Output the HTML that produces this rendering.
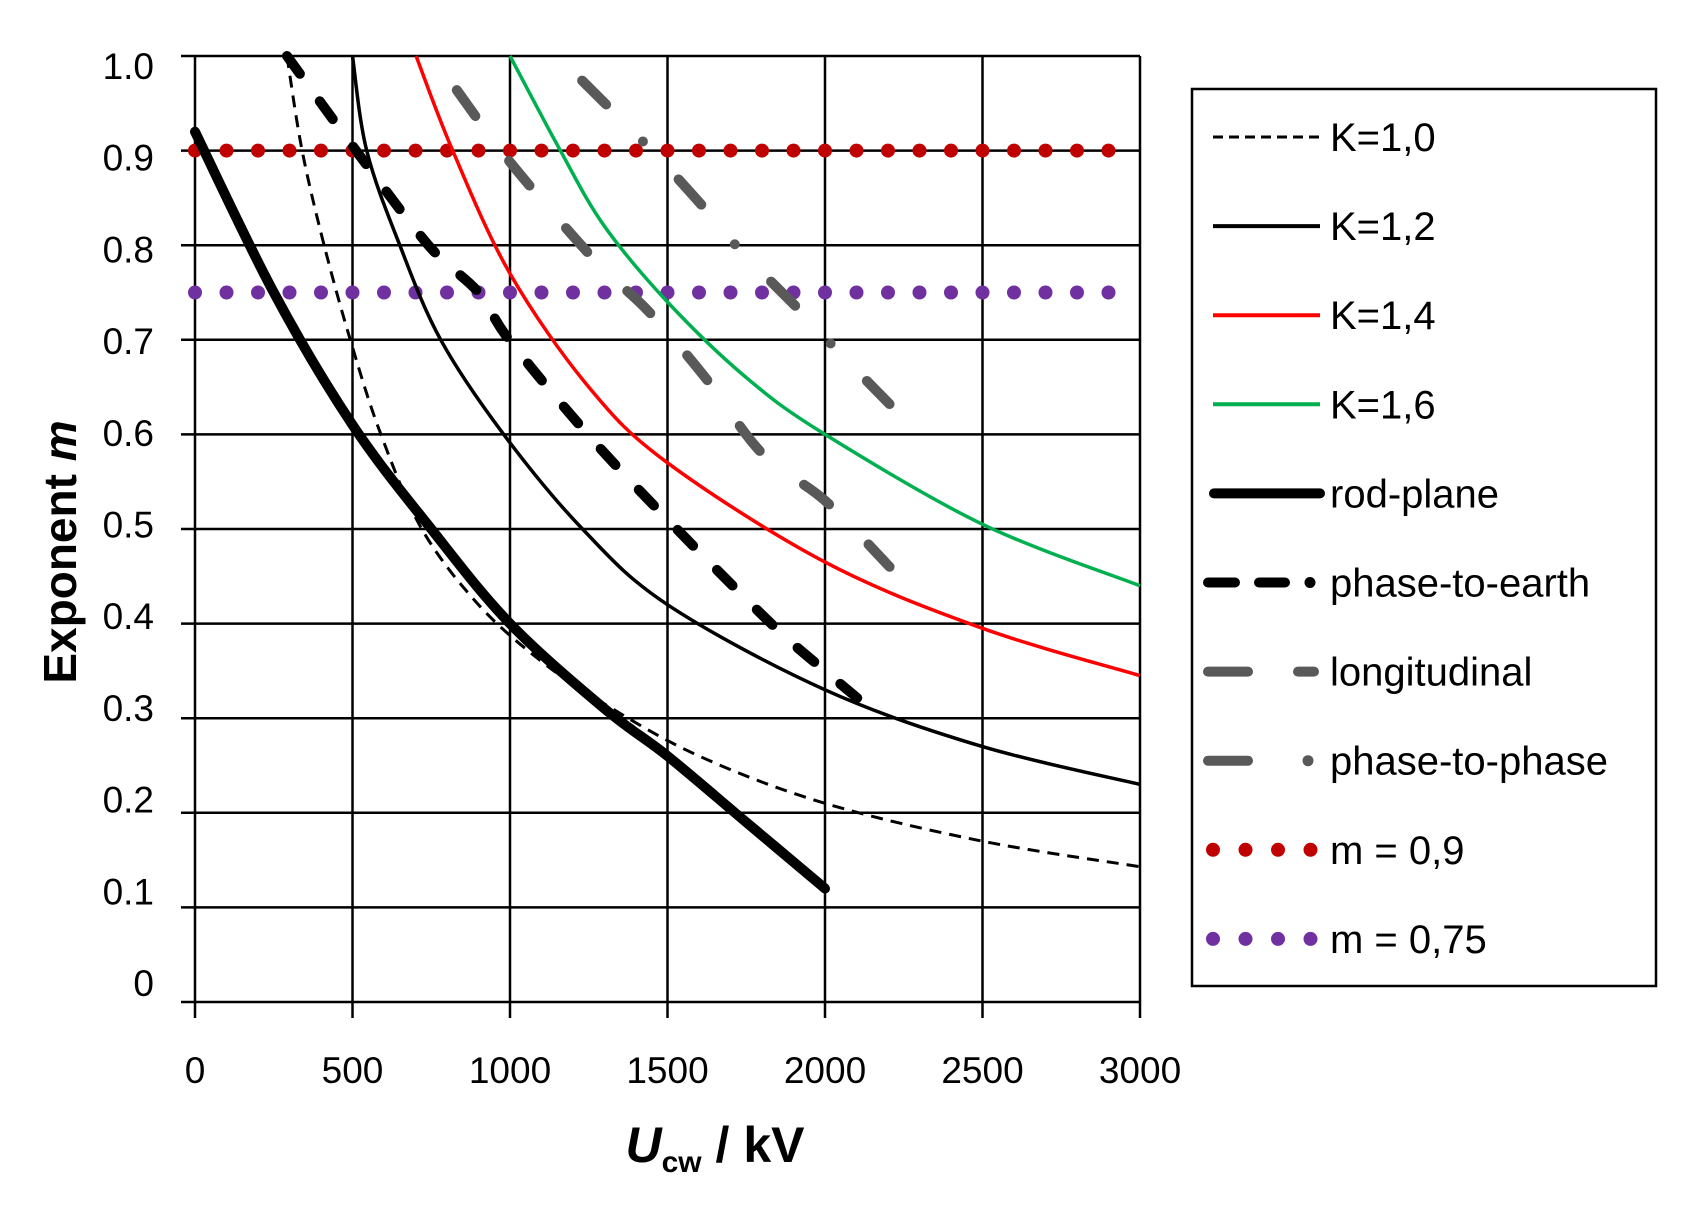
<!DOCTYPE html>
<html><head><meta charset="utf-8"><style>
html,body{margin:0;padding:0;background:#fff;}
svg{display:block;}
text{font-family:"Liberation Sans",sans-serif;fill:#000;}
</style></head><body>
<svg id="s" width="1690" height="1207" viewBox="0 0 1690 1207" xmlns="http://www.w3.org/2000/svg">
<g id="grid" stroke="#000" stroke-width="2.5"></g>
<g id="labels" font-size="37"></g>
<g id="series" fill="none"></g>
<text x="60" y="552" font-size="46" font-weight="bold" text-anchor="middle" transform="rotate(-90 60 552)" dy="16">Exponent <tspan font-style="italic">m</tspan></text>
<text x="715" y="1162" font-size="50" font-weight="bold" text-anchor="middle"><tspan font-style="italic">U</tspan><tspan font-size="30" dy="10">cw</tspan><tspan dy="-10"> / kV</tspan></text>
<rect x="1192" y="89" width="464" height="897" fill="none" stroke="#000" stroke-width="2.5"/>
<g id="legend" font-size="40"></g>
</svg>
<script>
var NS="http://www.w3.org/2000/svg";
function X(u){return 195+u*0.315;}
function Y(m){return 1002-m*946;}
function el(p,t,a,txt){var e=document.createElementNS(NS,t);for(var k in a)e.setAttribute(k,a[k]);if(txt!==undefined)e.textContent=txt;document.getElementById(p).appendChild(e);return e;}
for(var i=0;i<=10;i++){var y=Y(i/10);el("grid","line",{x1:181,y1:y,x2:X(3000),y2:y});}
for(var u=0;u<=3000;u+=500){el("grid","line",{x1:X(u),y1:Y(1),x2:X(u),y2:1018});}
var yl=["0","0.1","0.2","0.3","0.4","0.5","0.6","0.7","0.8","0.9","1.0"];
for(var i=0;i<=10;i++){el("labels","text",{x:154,y:983-i*91.7+13,"text-anchor":"end"},yl[i]);}
for(var u=0;u<=3000;u+=500){el("labels","text",{x:X(u),y:1083,"text-anchor":"middle"},String(u));}
function path(pts){
  var P=pts.map(function(p){return [X(p[0]),Y(p[1])];});
  var d="M"+P[0][0].toFixed(1)+" "+P[0][1].toFixed(1);
  for(var i=0;i<P.length-1;i++){
    var p0=P[i-1]||P[i],p1=P[i],p2=P[i+1],p3=P[i+2]||P[i+1];
    var c1=[p1[0]+(p2[0]-p0[0])/6,p1[1]+(p2[1]-p0[1])/6];
    var c2=[p2[0]-(p3[0]-p1[0])/6,p2[1]-(p3[1]-p1[1])/6];
    d+=" C"+c1[0].toFixed(1)+" "+c1[1].toFixed(1)+" "+c2[0].toFixed(1)+" "+c2[1].toFixed(1)+" "+p2[0].toFixed(1)+" "+p2[1].toFixed(1);
  }
  return d;
}
function S(pts,a){a.d=path(pts);el("series","path",a);}
for(var u=0;u<=2900;u+=100){
  el("series","circle",{cx:X(u),cy:Y(0.9),r:7,fill:"#C00000"});
  el("series","circle",{cx:X(u),cy:Y(0.75),r:7,fill:"#7030A0"});
}
S([[0,0.92],[250,0.75],[500,0.61],[750,0.5],[1000,0.4],[1300,0.31],[1500,0.26],[1750,0.19],[2000,0.12]],{stroke:"#000","stroke-width":10,"stroke-linecap":"round"});
S([[292,1.0],[340,0.9],[410,0.8],[493,0.7],[590,0.6],[720,0.5],[900,0.42],[1100,0.36],[1300,0.315],[1600,0.26],[2000,0.21],[2500,0.17],[3000,0.143]],{stroke:"#000","stroke-width":3,"stroke-dasharray":"12 8"});
S([[500,1.0],[545,0.9],[650,0.8],[780,0.7],[980,0.6],[1230,0.5],[1500,0.42],[2000,0.33],[2500,0.27],[3000,0.23]],{stroke:"#000","stroke-width":3.5});
S([[702,1.0],[818,0.9],[1000,0.77],[1250,0.65],[1500,0.57],[2000,0.465],[2500,0.395],[3000,0.345]],{stroke:"#FF0000","stroke-width":3.5});
S([[1000,1.0],[1160,0.9],[1300,0.82],[1500,0.74],[1750,0.66],[2000,0.6],[2500,0.505],[3000,0.44]],{stroke:"#00B050","stroke-width":3.5});
S([[292,1.0],[511,0.9],[741,0.8],[900,0.75],[997,0.7],[1247,0.6],[1500,0.51],[1829,0.4],[2000,0.35],[2180,0.3]],{stroke:"#000","stroke-width":10,"stroke-linecap":"round","stroke-dasharray":"22 34"});
S([[831,0.964],[1000,0.888],[1264,0.786],[1440,0.73],[1620,0.66],[1800,0.58],[2000,0.53],[2205,0.46]],{stroke:"#595959","stroke-width":10,"stroke-linecap":"round","stroke-dasharray":"32 56"});
S([[1229,0.974],[1450,0.9],[1623,0.837],[1730,0.795],[1932,0.727],[2038,0.689],[2205,0.632]],{stroke:"#595959","stroke-width":10,"stroke-linecap":"round","stroke-dasharray":"34 52 0 52"});
var names=["K=1,0","K=1,2","K=1,4","K=1,6","rod-plane","phase-to-earth","longitudinal","phase-to-phase","m = 0,9","m = 0,75"];
for(var i=0;i<10;i++){
  var y=137+i*89.1;
  el("legend","text",{x:1330,y:y+14},names[i]);
  var L=function(a){a.y1=y;a.y2=y;el("legend","line",a);};
  if(i==0)L({x1:1213,x2:1320,stroke:"#000","stroke-width":3,"stroke-dasharray":"10 6"});
  if(i==1)L({x1:1213,x2:1320,stroke:"#000","stroke-width":4});
  if(i==2)L({x1:1213,x2:1320,stroke:"#FF0000","stroke-width":4});
  if(i==3)L({x1:1213,x2:1320,stroke:"#00B050","stroke-width":4});
  if(i==4)L({x1:1214,x2:1320,stroke:"#000","stroke-width":10,"stroke-linecap":"round"});
  if(i==5){L({x1:1208,x2:1235,stroke:"#000","stroke-width":10,"stroke-linecap":"round"});L({x1:1259,x2:1285,stroke:"#000","stroke-width":10,"stroke-linecap":"round"});el("legend","circle",{cx:1310,cy:y,r:5.5,fill:"#000"});}
  if(i==6){L({x1:1208,x2:1248,stroke:"#595959","stroke-width":10,"stroke-linecap":"round"});L({x1:1298,x2:1314,stroke:"#595959","stroke-width":10,"stroke-linecap":"round"});}
  if(i==7){L({x1:1208,x2:1248,stroke:"#595959","stroke-width":10,"stroke-linecap":"round"});el("legend","circle",{cx:1308,cy:y,r:5.5,fill:"#595959"});}
  if(i==8||i==9){for(var k=0;k<4;k++)el("legend","circle",{cx:1213+k*32.5,cy:y,r:7,fill:i==8?"#C00000":"#7030A0"});}
}
</script>
</body></html>
